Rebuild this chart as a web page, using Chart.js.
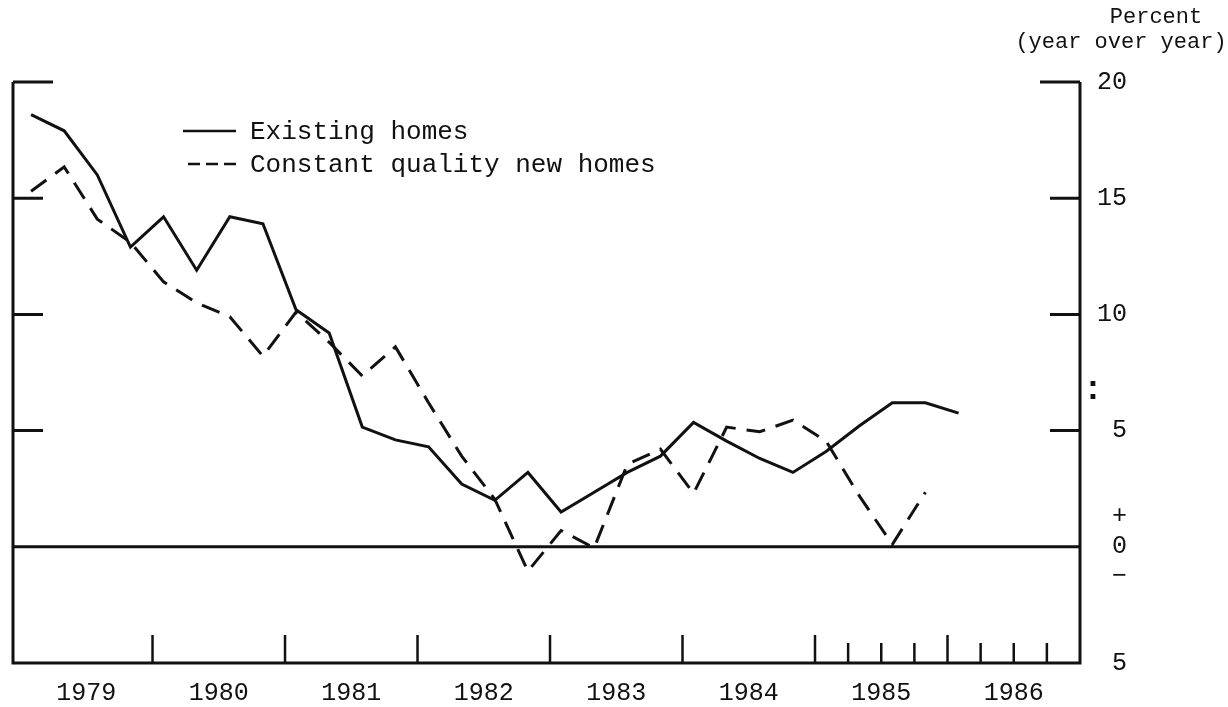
<!DOCTYPE html>
<html>
<head>
<meta charset="utf-8">
<script src="https://cdn.jsdelivr.net/npm/chart.js@4.4.1/dist/chart.umd.min.js"></script>
<style>
  html, body { margin: 0; padding: 0; background: #fff; }
  #wrap { width: 1228px; height: 707px; }
</style>
</head>
<body>
<div id="wrap"><canvas id="homePriceChart" width="1228" height="707"></canvas></div>
<script>
// quarters shown on the chart
var quarters = [
    '1979Q1', '1979Q2', '1979Q3', '1979Q4',
    '1980Q1', '1980Q2', '1980Q3', '1980Q4',
    '1981Q1', '1981Q2', '1981Q3', '1981Q4',
    '1982Q1', '1982Q2', '1982Q3', '1982Q4',
    '1983Q1', '1983Q2', '1983Q3', '1983Q4',
    '1984Q1', '1984Q2', '1984Q3', '1984Q4',
    '1985Q1', '1985Q2', '1985Q3', '1985Q4',
    '1986Q1'
];

// percent change, year over year
var existingHomes = [
    18.6, 17.9, 16.0, 12.9, 14.2, 11.9, 14.2, 13.9,
    10.2, 9.2, 5.15, 4.6, 4.3, 2.7, 2.0, 3.2,
    1.5, 2.35, 3.2, 3.9, 5.35, 4.55, 3.8, 3.2,
    4.1, 5.2, 6.2, 6.2, 5.75
];
var newHomes = [
    15.3, 16.35, 14.1, 13.1, 11.4, 10.5, 9.9, 8.2,
    10.1, 8.8, 7.35, 8.6, 6.2, 3.9, 2.05, -1.05,
    0.7, -0.05, 3.55, 4.2, 2.3, 5.15, 4.95, 5.45,
    4.55, 2.2, 0.1, 2.35, null
];

var yearLabels = ['1979', '1980', '1981', '1982', '1983', '1984', '1985', '1986'];
var yTicks = [20, 15, 10, 5, 0, -5];

var FONT = "'Liberation Mono', 'DejaVu Sans Mono', monospace";
var INK = '#111';

// quarter -> position on the time axis (points sit early in each quarter)
function quarterPos(q) {
    var year = parseInt(q.slice(0, 4), 10);
    var n = parseInt(q.slice(5), 10);
    return year + (n - 1) / 4 + 1 / 12;
}

function toPoints(values) {
    return quarters.map(function (q, i) {
        return { x: quarterPos(q), y: values[i] };
    });
}

// frame, tick marks, legend and titles
var framePlugin = {
    id: 'frame',
    afterDraw: function (chart) {
        var ctx = chart.ctx;
        var area = chart.chartArea;
        var xs = chart.scales.x;
        var ys = chart.scales.y;
        ctx.save();
        ctx.strokeStyle = INK;
        ctx.fillStyle = INK;
        ctx.lineWidth = 3;
        ctx.lineCap = 'butt';

        // borders
        ctx.beginPath();
        ctx.moveTo(area.left, area.top);
        ctx.lineTo(area.left, area.bottom);
        ctx.lineTo(area.right, area.bottom);
        ctx.lineTo(area.right, area.top);
        ctx.stroke();

        // zero line
        var y0 = ys.getPixelForValue(0);
        ctx.beginPath();
        ctx.moveTo(area.left, y0);
        ctx.lineTo(area.right, y0);
        ctx.stroke();

        // inward ticks on both sides
        yTicks.forEach(function (v) {
            if (v <= 0) return;
            var py = ys.getPixelForValue(v);
            var len = v === 20 ? 40 : 30;
            ctx.beginPath();
            ctx.moveTo(area.left, py);
            ctx.lineTo(area.left + len, py);
            ctx.moveTo(area.right - len, py);
            ctx.lineTo(area.right, py);
            ctx.stroke();
        });

        // year ticks, quarter ticks for the last two years
        ctx.lineWidth = 2.5;
        yearLabels.forEach(function (yr, i) {
            var y = parseInt(yr, 10);
            if (i > 0) {
                var px = xs.getPixelForValue(y);
                ctx.beginPath();
                ctx.moveTo(px, area.bottom);
                ctx.lineTo(px, area.bottom - 28);
                ctx.stroke();
            }
            if (y >= 1985) {
                [0.25, 0.5, 0.75].forEach(function (f) {
                    var qx = xs.getPixelForValue(y + f);
                    ctx.beginPath();
                    ctx.moveTo(qx, area.bottom);
                    ctx.lineTo(qx, area.bottom - 20);
                    ctx.stroke();
                });
            }
        });

        // legend
        var ds = chart.data.datasets;
        ctx.font = '26px ' + FONT;
        ctx.textBaseline = 'middle';
        ctx.textAlign = 'left';
        ctx.lineWidth = 2.5;
        ctx.beginPath();
        ctx.moveTo(183, 131);
        ctx.lineTo(236, 131);
        ctx.stroke();
        ctx.fillText(ds[0].label, 250, 132);
        ctx.setLineDash([12, 6]);
        ctx.beginPath();
        ctx.moveTo(188, 164);
        ctx.lineTo(236, 164);
        ctx.stroke();
        ctx.setLineDash([]);
        ctx.fillText(ds[1].label, 250, 165);

        // unit title
        ctx.font = '22px ' + FONT;
        ctx.textAlign = 'center';
        ctx.fillText('Percent', 1156, 17);
        ctx.fillText('(year over year)', 1121, 42);

        // small mark beside the right axis
        ctx.font = 'bold 34px ' + FONT;
        ctx.fillText(':', 1093, 390);
        ctx.restore();
    }
};

var ctx = document.getElementById('homePriceChart').getContext('2d');

var homePriceChart = new Chart(ctx, {
    type: 'line',
    data: {
        datasets: [{
            label: 'Existing homes',
            data: toPoints(existingHomes),
            borderColor: INK,
            borderWidth: 3,
            pointRadius: 0,
            tension: 0,
            fill: false
        }, {
            label: 'Constant quality new homes',
            data: toPoints(newHomes),
            borderColor: INK,
            borderWidth: 3,
            borderDash: [19, 11],
            pointRadius: 0,
            tension: 0,
            fill: false,
            spanGaps: false
        }]
    },
    options: {
        responsive: false,
        animation: false,
        devicePixelRatio: 1,
        layout: { padding: { left: 13, top: 82, right: 101, bottom: 0 } },
        plugins: {
            legend: { display: false },
            tooltip: { enabled: false }
        },
        scales: {
            x: {
                type: 'linear',
                min: 1978.947,
                max: 1987,
                grid: { display: false, drawTicks: false },
                border: { display: false },
                afterBuildTicks: function (scale) {
                    scale.ticks = yearLabels.map(function (y) {
                        return { value: parseInt(y, 10) + 0.5 };
                    });
                },
                afterFit: function (scale) { scale.height = 44; },
                ticks: {
                    autoSkip: false,
                    maxRotation: 0,
                    padding: 15,
                    color: INK,
                    font: { family: FONT, size: 25 },
                    callback: function (v) { return String(Math.floor(v)); }
                }
            },
            y: {
                position: 'right',
                min: -5,
                max: 20,
                grid: { display: false, drawTicks: false },
                border: { display: false },
                afterBuildTicks: function (scale) {
                    scale.ticks = yTicks.map(function (v) { return { value: v }; });
                },
                afterFit: function (scale) { scale.width = 47; },
                ticks: {
                    padding: 11,
                    crossAlign: 'far',
                    color: INK,
                    font: { family: FONT, size: 25, lineHeight: 1.2 },
                    callback: function (v) {
                        if (v === 0) return ['+', '0', '\u2212'];
                        return String(Math.abs(v));
                    }
                }
            }
        }
    },
    plugins: [framePlugin]
});
</script>
</body>
</html>
